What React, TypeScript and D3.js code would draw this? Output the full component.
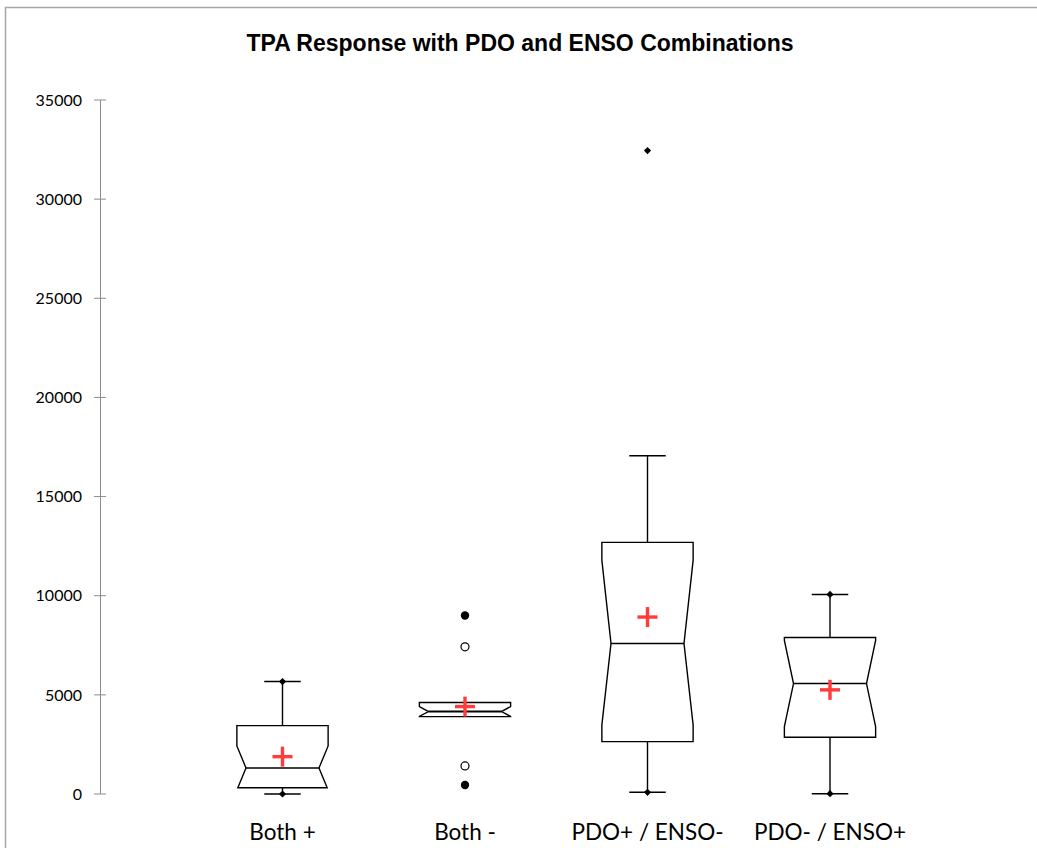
import React from "react";
import * as d3 from "d3";

const categories = ["Both +", "Both -", "PDO+ / ENSO-", "PDO- / ENSO+"];
const q1 = [318, 3904, 2641, 2863];
const median = [1313, 4160, 7590, 5570];
const q3 = [3449, 4611, 12691, 7893];
const notchLow = [202, 3910, 3485, 3399];
const notchHigh = [2424, 4410, 11782, 7741];
const whiskerLow = [0, 3904, 86, 15];
const whiskerHigh = [5671, 4611, 17055, 10065];
const means = [1884, 4409, 8924, 5252];
const minimum = [0, 454, 86, 15];
const maximum = [5671, 9004, 32450, 10065];
const outliers = [[], [7424, 1414], [], []];
// extreme min/max drawn as filled dots, others as diamonds
const extremeDot = [false, true, false, false];
const yTicks = [0, 5000, 10000, 15000, 20000, 25000, 30000, 35000];

const W = 1037;
const H = 848;

const x = d3.scaleLinear().domain([0, 5]).range([100, 1012.5]);
const y = d3.scaleLinear().domain([0, 35000]).range([794, 100]);

function boxPath(i: number) {
  const c = x(i + 1);
  const half = x(0.25) - x(0);
  const inner = x(0.2) - x(0);
  const m = y(median[i]);
  const top = y(q3[i]);
  const bot = y(q1[i]);
  const slope = (v: number, edge: number) =>
    inner + ((half - inner) * Math.abs(v - median[i])) / Math.abs(edge - median[i]);
  const topHalf = notchHigh[i] < q3[i] ? half : slope(q3[i], notchHigh[i]);
  const botHalf = notchLow[i] > q1[i] ? half : slope(q1[i], notchLow[i]);
  const pts: [number, number][] = [];
  pts.push([c - topHalf, top]);
  if (notchHigh[i] < q3[i]) pts.push([c - half, y(notchHigh[i])]);
  pts.push([c - inner, m]);
  if (notchLow[i] > q1[i]) pts.push([c - half, y(notchLow[i])]);
  pts.push([c - botHalf, bot]);
  pts.push([c + botHalf, bot]);
  if (notchLow[i] > q1[i]) pts.push([c + half, y(notchLow[i])]);
  pts.push([c + inner, m]);
  if (notchHigh[i] < q3[i]) pts.push([c + half, y(notchHigh[i])]);
  pts.push([c + topHalf, top]);
  return d3.line()(pts) + "Z";
}

export default function App() {
  const cap = x(0.1) - x(0);
  const inner = x(0.2) - x(0);
  const diamond = d3.symbol().type(d3.symbolSquare).size(26)();
  return (
    <svg
      width={W}
      height={H}
      style={{ position: "absolute", left: 0, top: 0, background: "#fff" }}
    >
      <rect x={5.5} y={7.5} width={1100} height={1000} fill="#fff" stroke="#a6a6a6" strokeWidth={1.5} />
      <text
        x={520}
        y={51}
        textAnchor="middle"
        fontFamily="Liberation Sans, Arial, sans-serif"
        fontWeight="bold"
        fontSize={23}
      >
        TPA Response with PDO and ENSO Combinations
      </text>
      <g fontFamily="Lato, sans-serif">
        <line x1={100.5} x2={100.5} y1={y(35000)} y2={y(0)} stroke="#8c8c8c" strokeWidth={1} />
        {yTicks.map((t) => (
          <g key={t}>
            <line x1={94} x2={106} y1={y(t)} y2={y(t)} stroke="#8c8c8c" />
            <text x={82} y={y(t)} dy="0.36em" textAnchor="end" fontSize={16} fill="#000">
              {t}
            </text>
          </g>
        ))}
        {categories.map((cat, i) => (
          <text key={cat} x={x(i + 1)} y={840} textAnchor="middle" fontSize={22.5}>
            {cat}
          </text>
        ))}
      </g>
      {categories.map((cat, i) => {
        const c = x(i + 1);
        return (
          <g key={cat} stroke="#000" strokeWidth={1.4} fill="none">
            {whiskerHigh[i] > q3[i] && (
              <>
                <line x1={c} x2={c} y1={y(q3[i])} y2={y(whiskerHigh[i])} />
                <line x1={c - cap} x2={c + cap} y1={y(whiskerHigh[i])} y2={y(whiskerHigh[i])} />
              </>
            )}
            {whiskerLow[i] < q1[i] && (
              <>
                <line x1={c} x2={c} y1={y(q1[i])} y2={y(whiskerLow[i])} />
                <line x1={c - cap} x2={c + cap} y1={y(whiskerLow[i])} y2={y(whiskerLow[i])} />
              </>
            )}
            <path d={boxPath(i)} fill="#fff" />
            <line x1={c - inner} x2={c + inner} y1={y(median[i])} y2={y(median[i])} strokeWidth={i === 1 ? 2 : 1.4} />
            {outliers[i].map((v) => (
              <circle key={v} cx={c} cy={y(v)} r={4} fill="#fff" strokeWidth={1.2} />
            ))}
            {[minimum[i], maximum[i]].map((v, k) =>
              extremeDot[i] ? (
                <circle key={k} cx={c} cy={y(v)} r={4.2} fill="#000" stroke="none" />
              ) : (
                <path key={k} d={diamond} transform={`translate(${c},${y(v)}) rotate(45)`} fill="#000" stroke="none" />
              )
            )}
            <g stroke="#ff3b3b" strokeWidth={3.4}>
              <line x1={c - 10} x2={c + 10} y1={y(means[i])} y2={y(means[i])} />
              <line x1={c} x2={c} y1={y(means[i]) - 10} y2={y(means[i]) + 10} />
            </g>
          </g>
        );
      })}
    </svg>
  );
}
